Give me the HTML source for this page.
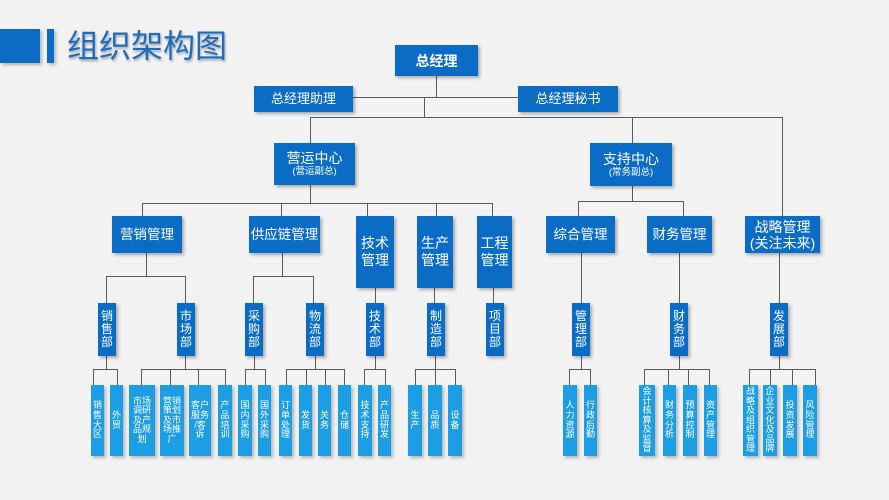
<!DOCTYPE html>
<html><head><meta charset="utf-8"><style>
*{margin:0;padding:0;box-sizing:border-box}
body{width:889px;height:500px;background:#f2f2f2;position:relative;overflow:hidden;font-family:"Liberation Sans","Noto Sans CJK SC",sans-serif}
.n{position:absolute;background:#0b6cc5;color:#fff;display:flex;flex-direction:column;align-items:center;justify-content:center;text-align:center;box-shadow:2px 2px 3px rgba(0,0,0,0.3);font-size:13px;line-height:16px}
.d{position:absolute;background:#0b6cc5;color:#fff;width:18px;height:53px;top:303px;font-size:12px;line-height:13px;display:flex;align-items:center;justify-content:center;text-align:center;box-shadow:2px 2px 3px rgba(0,0,0,0.3)}
.l{position:absolute;background:#1d9de3;color:#fff;top:385px;height:71px;font-size:9px;line-height:9.6px;display:flex;align-items:center;justify-content:center;text-align:center;box-shadow:2px 2px 3px rgba(0,0,0,0.25)}
.h{position:absolute;height:1px;background:#5a5a5a}
.v{position:absolute;width:1px;background:#5a5a5a}
</style></head><body>
<div style="position:absolute;left:0;top:29px;width:40px;height:34px;background:#0b6cc5;box-shadow:2px 2px 3px rgba(0,0,0,0.25)"></div>
<div style="position:absolute;left:47px;top:29px;width:7px;height:34px;background:#0b6cc5;box-shadow:2px 2px 3px rgba(0,0,0,0.25)"></div>
<div style="position:absolute;left:67px;top:28px;font-size:32px;line-height:36px;color:#1d6cc0;text-shadow:1px 2px 2px rgba(0,0,0,0.3);letter-spacing:0px">组织架构图</div>

<!-- connectors top -->
<div class="v" style="left:436px;top:76px;height:21px"></div>
<div class="h" style="left:353px;top:97px;width:165px"></div>
<div class="v" style="left:424px;top:97px;height:20px"></div>
<div class="h" style="left:310px;top:117px;width:473px"></div>
<div class="v" style="left:310px;top:117px;height:26px"></div>
<div class="v" style="left:632px;top:117px;height:26px"></div>
<div class="v" style="left:782px;top:117px;height:99px"></div>

<div class="v" style="left:310px;top:185px;height:18px"></div>
<div class="h" style="left:142px;top:203px;width:351px"></div>
<div class="v" style="left:142px;top:203px;height:13px"></div>
<div class="v" style="left:281px;top:203px;height:13px"></div>
<div class="v" style="left:367px;top:203px;height:13px"></div>
<div class="v" style="left:436px;top:203px;height:13px"></div>
<div class="v" style="left:492px;top:203px;height:13px"></div>

<div class="v" style="left:632px;top:186px;height:15px"></div>
<div class="h" style="left:578px;top:201px;width:106px"></div>
<div class="v" style="left:578px;top:201px;height:15px"></div>
<div class="v" style="left:683px;top:201px;height:15px"></div>

<!-- level3 to level4 -->
<div class="v" style="left:146px;top:253px;height:23px"></div>
<div class="h" style="left:106px;top:276px;width:80px"></div>
<div class="v" style="left:106px;top:276px;height:27px"></div>
<div class="v" style="left:185px;top:276px;height:27px"></div>
<div class="v" style="left:282px;top:253px;height:23px"></div>
<div class="h" style="left:253px;top:276px;width:61px"></div>
<div class="v" style="left:253px;top:276px;height:27px"></div>
<div class="v" style="left:313px;top:276px;height:27px"></div>
<div class="v" style="left:375px;top:288px;height:15px"></div>
<div class="v" style="left:434px;top:288px;height:15px"></div>
<div class="v" style="left:493px;top:288px;height:15px"></div>
<div class="v" style="left:581px;top:253px;height:50px"></div>
<div class="v" style="left:679px;top:253px;height:50px"></div>
<div class="v" style="left:779px;top:253px;height:50px"></div>

<!-- level4 to leaves -->
<div class="v" style="left:106px;top:356px;height:13px"></div>
<div class="h" style="left:93px;top:369px;width:25px"></div>
<div class="v" style="left:93px;top:369px;height:16px"></div>
<div class="v" style="left:117px;top:369px;height:16px"></div>

<div class="v" style="left:185px;top:356px;height:13px"></div>
<div class="h" style="left:141px;top:369px;width:85px"></div>
<div class="v" style="left:141px;top:369px;height:16px"></div>
<div class="v" style="left:170px;top:369px;height:16px"></div>
<div class="v" style="left:198px;top:369px;height:16px"></div>
<div class="v" style="left:225px;top:369px;height:16px"></div>

<div class="v" style="left:254px;top:356px;height:13px"></div>
<div class="h" style="left:245px;top:369px;width:21px"></div>
<div class="v" style="left:245px;top:369px;height:16px"></div>
<div class="v" style="left:265px;top:369px;height:16px"></div>

<div class="v" style="left:315px;top:356px;height:13px"></div>
<div class="h" style="left:286px;top:369px;width:59px"></div>
<div class="v" style="left:286px;top:369px;height:16px"></div>
<div class="v" style="left:306px;top:369px;height:16px"></div>
<div class="v" style="left:325px;top:369px;height:16px"></div>
<div class="v" style="left:344px;top:369px;height:16px"></div>

<div class="v" style="left:375px;top:356px;height:13px"></div>
<div class="h" style="left:364px;top:369px;width:22px"></div>
<div class="v" style="left:364px;top:369px;height:16px"></div>
<div class="v" style="left:385px;top:369px;height:16px"></div>

<div class="v" style="left:435px;top:356px;height:13px"></div>
<div class="h" style="left:415px;top:369px;width:41px"></div>
<div class="v" style="left:415px;top:369px;height:16px"></div>
<div class="v" style="left:435px;top:369px;height:16px"></div>
<div class="v" style="left:455px;top:369px;height:16px"></div>

<div class="v" style="left:581px;top:356px;height:13px"></div>
<div class="h" style="left:569px;top:369px;width:22px"></div>
<div class="v" style="left:569px;top:369px;height:16px"></div>
<div class="v" style="left:590px;top:369px;height:16px"></div>

<div class="v" style="left:679px;top:356px;height:13px"></div>
<div class="h" style="left:644px;top:369px;width:66px"></div>
<div class="v" style="left:644px;top:369px;height:16px"></div>
<div class="v" style="left:668px;top:369px;height:16px"></div>
<div class="v" style="left:688px;top:369px;height:16px"></div>
<div class="v" style="left:709px;top:369px;height:16px"></div>

<div class="v" style="left:779px;top:356px;height:13px"></div>
<div class="h" style="left:749px;top:369px;width:67px"></div>
<div class="v" style="left:749px;top:369px;height:16px"></div>
<div class="v" style="left:770px;top:369px;height:16px"></div>
<div class="v" style="left:792px;top:369px;height:16px"></div>
<div class="v" style="left:815px;top:369px;height:16px"></div>

<!-- nodes -->
<div class="n" style="left:395px;top:45px;width:83px;height:31px;font-size:14px;font-weight:bold">总经理</div>
<div class="n" style="left:254px;top:86px;width:99px;height:26px">总经理助理</div>
<div class="n" style="left:518px;top:86px;width:100px;height:26px">总经理秘书</div>
<div class="n" style="left:274px;top:143px;width:81px;height:42px"><div style="font-size:14px;line-height:16px">营运中心</div><div style="font-size:9.5px;line-height:12px">(营运副总)</div></div>
<div class="n" style="left:590px;top:143px;width:82px;height:43px"><div style="font-size:14px;line-height:16px">支持中心</div><div style="font-size:9.5px;line-height:12px">(常务副总)</div></div>

<div class="n" style="left:112px;top:216px;width:70px;height:37px;font-size:13.5px">营销管理</div>
<div class="n" style="left:249px;top:216px;width:71px;height:37px;font-size:13.5px">供应链管理</div>
<div class="n" style="left:356px;top:216px;width:38px;height:72px;font-size:14px;line-height:17px">技术<br>管理</div>
<div class="n" style="left:417px;top:216px;width:36px;height:72px;font-size:14px;line-height:17px">生产<br>管理</div>
<div class="n" style="left:477px;top:216px;width:35px;height:72px;font-size:14px;line-height:17px">工程<br>管理</div>
<div class="n" style="left:546px;top:216px;width:69px;height:37px;font-size:13.5px">综合管理</div>
<div class="n" style="left:647px;top:216px;width:65px;height:37px;font-size:13.5px">财务管理</div>
<div class="n" style="left:745px;top:216px;width:75px;height:37px;font-size:14px;line-height:16px">战略管理<br>(关注未来)</div>

<!-- level 4 -->
<div class="d" style="left:98px">销<br>售<br>部</div>
<div class="d" style="left:177px">市<br>场<br>部</div>
<div class="d" style="left:245px">采<br>购<br>部</div>
<div class="d" style="left:306px">物<br>流<br>部</div>
<div class="d" style="left:366px">技<br>术<br>部</div>
<div class="d" style="left:427px">制<br>造<br>部</div>
<div class="d" style="left:486px">项<br>目<br>部</div>
<div class="d" style="left:572px">管<br>理<br>部</div>
<div class="d" style="left:670px">财<br>务<br>部</div>
<div class="d" style="left:770px">发<br>展<br>部</div>

<!-- leaves -->
<div class="l" style="left:91px;width:13px">销<br>售<br>大<br>区</div>
<div class="l" style="left:110px;width:13px">外<br>贸</div>
<div class="l" style="left:129px;width:26px">市场<br>调研<br>及产<br>品规<br>划</div>
<div class="l" style="left:160px;width:24px">营销<br>策划<br>及市<br>场推<br>广</div>
<div class="l" style="left:189px;width:22px">客户<br>服务<br>/客<br>诉</div>
<div class="l" style="left:218px;width:14px">产<br>品<br>培<br>训</div>
<div class="l" style="left:238px;width:14px">国<br>内<br>采<br>购</div>
<div class="l" style="left:258px;width:13px">国<br>外<br>采<br>购</div>
<div class="l" style="left:279px;width:13px">订<br>单<br>处<br>理</div>
<div class="l" style="left:299px;width:13px">发<br>货</div>
<div class="l" style="left:318px;width:13px">关<br>务</div>
<div class="l" style="left:338px;width:13px">仓<br>储</div>
<div class="l" style="left:358px;width:14px">技<br>术<br>支<br>持</div>
<div class="l" style="left:378px;width:13px">产<br>品<br>研<br>发</div>
<div class="l" style="left:408px;width:14px">生<br>产</div>
<div class="l" style="left:428px;width:14px">品<br>质</div>
<div class="l" style="left:448px;width:14px">设<br>备</div>
<div class="l" style="left:563px;width:14px">人<br>力<br>资<br>源</div>
<div class="l" style="left:584px;width:13px">行<br>政<br>后<br>勤</div>
<div class="l" style="left:639px;width:16px">会<br>计<br>核<br>算<br>及<br>监<br>督</div>
<div class="l" style="left:663px;width:13px">财<br>务<br>分<br>析</div>
<div class="l" style="left:683px;width:14px">预<br>算<br>控<br>制</div>
<div class="l" style="left:704px;width:13px">资<br>产<br>管<br>理</div>
<div class="l" style="left:743px;width:15px">战<br>略<br>及<br>组<br>织<br>管<br>理</div>
<div class="l" style="left:763px;width:14px">企<br>业<br>文<br>化<br>及<br>品<br>牌</div>
<div class="l" style="left:783px;width:14px">投<br>资<br>发<br>展</div>
<div class="l" style="left:803px;width:14px">风<br>险<br>管<br>理</div>
</body></html>
